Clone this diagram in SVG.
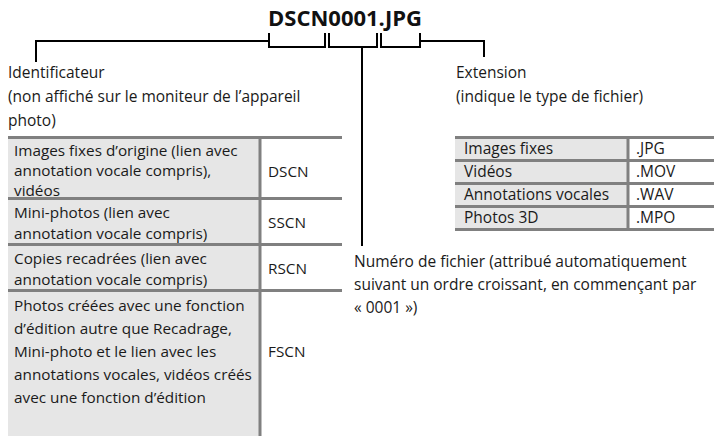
<svg xmlns="http://www.w3.org/2000/svg" width="714" height="436" viewBox="0 0 714 436">
<style>
text{font-family:"Open Sans","Noto Sans","Liberation Sans",sans-serif;font-size:15.5px;fill:#1a1a1a}
.title{font-size:22px;font-weight:bold;fill:#111}
.t{font-size:15.3px}
.br{fill:none;stroke:#000;stroke-width:2}
.cellL{fill:#e6e6e6}
.cellR{fill:#fff}
.grid{stroke:#808080;stroke-width:3;fill:none}
</style>
<rect width="714" height="436" fill="#fff"/>
<text class="title" x="268" y="26">DSCN0001.JPG</text>
<g id="connectors">
<path class="br" d="M36,62 V41 H269"/>
<path class="br" d="M269,33 V47 H325 V33"/>
<path class="br" d="M329,33 V47 H377 V33"/>
<path class="br" d="M362,47 V246"/>
<path class="br" d="M381,33 V47 H420 V33"/>
<path class="br" d="M420,41 H484 V57"/>
</g>
<g id="identificateur">
<text x="8" y="78">Identificateur</text>
<text x="8" y="102">(non affiché sur le moniteur de l’appareil</text>
<text x="8" y="126">photo)</text>
</g>
<g id="extension">
<text x="456" y="78">Extension</text>
<text x="456" y="102">(indique le type de fichier)</text>
</g>
<g id="numero">
<text x="354" y="267">Numéro de fichier (attribué automatiquement</text>
<text x="354" y="290">suivant un ordre croissant, en commençant par</text>
<text x="354" y="313">« 0001 »)</text>
</g>
<g id="table-left">
<rect class="cellL" x="8" y="137" width="252" height="299"/>
<rect class="cellR" x="260" y="137" width="82" height="299"/>
<path class="grid" d="M8,137.5 H342 M8,198.5 H342 M8,244.5 H342 M8,290.5 H342 M260,137 V436"/>
<text class="t" x="14" y="156">Images fixes d’origine (lien avec</text>
<text class="t" x="14" y="176">annotation vocale compris),</text>
<text class="t" x="14" y="196">vidéos</text>
<text class="t" x="268" y="177">DSCN</text>
<text class="t" x="14" y="218">Mini-photos (lien avec</text>
<text class="t" x="14" y="239">annotation vocale compris)</text>
<text class="t" x="268" y="228">SSCN</text>
<text class="t" x="14" y="264">Copies recadrées (lien avec</text>
<text class="t" x="14" y="285">annotation vocale compris)</text>
<text class="t" x="268" y="274">RSCN</text>
<text class="t" x="14" y="311">Photos créées avec une fonction</text>
<text class="t" x="14" y="334">d’édition autre que Recadrage,</text>
<text class="t" x="14" y="357">Mini-photo et le lien avec les</text>
<text class="t" x="14" y="380">annotations vocales, vidéos créés</text>
<text class="t" x="14" y="403">avec une fonction d’édition</text>
<text class="t" x="268" y="357">FSCN</text>
</g>
<g id="table-right">
<rect class="cellL" x="455" y="137" width="173" height="93"/>
<rect class="cellR" x="628" y="137" width="86" height="93"/>
<path class="grid" d="M455,137.5 H714 M455,160.5 H714 M455,183.5 H714 M455,206.5 H714 M455,229.5 H714 M628,137 V230"/>
<text x="464" y="154">Images fixes</text>
<text x="636" y="154">.JPG</text>
<text x="464" y="177">Vidéos</text>
<text x="636" y="177">.MOV</text>
<text x="464" y="200">Annotations vocales</text>
<text x="636" y="200">.WAV</text>
<text x="464" y="223">Photos 3D</text>
<text x="636" y="223">.MPO</text>
</g>
</svg>
